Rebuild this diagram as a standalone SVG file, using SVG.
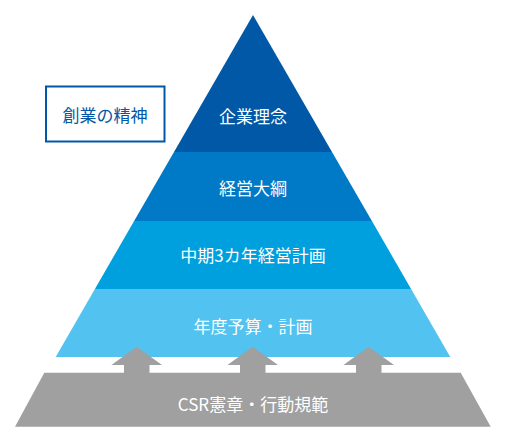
<svg xmlns="http://www.w3.org/2000/svg" width="505" height="443" viewBox="0 0 505 443">
<style>
.t{font-family:"Noto Sans CJK JP","Noto Sans",sans-serif;font-size:17px;fill:#fff;text-anchor:middle;dominant-baseline:central}
.arr{fill:#a0a0a0}
</style>
<rect width="505" height="443" fill="#fff"/>
<g id="box">
<rect x="46" y="86.5" width="118.5" height="55" fill="#fff" stroke="#0058a6" stroke-width="2"/>
<text class="t" x="105" y="114.5" style="fill:#0058a6">創業の精神</text>
</g>
<g id="band1">
<polygon points="253,15 332,152 174,152" fill="#0058a6"/>
<text class="t" x="253" y="115">企業理念</text>
</g>
<g id="band2">
<polygon points="174,152 332,152 371.9,221 134.1,221" fill="#0079c6"/>
<text class="t" x="253" y="187.5">経営大綱</text>
</g>
<g id="band3">
<polygon points="134.1,221 371.9,221 411.1,289 94.9,289" fill="#00a0de"/>
<text class="t" x="253" y="254">中期3カ年経営計画</text>
</g>
<g id="band4">
<polygon points="94.9,289 411.1,289 450.3,357 55.7,357" fill="#52c2f0"/>
<text class="t" x="253" y="325">年度予算・計画</text>
</g>
<g id="connectors">
<polygon class="arr" points="136.7,346.7 162,365 149.5,365 149.5,374 124,374 124,365 111.4,365"/>
<polygon class="arr" points="252.7,346.7 278,365 265.5,365 265.5,374 240,374 240,365 227.4,365"/>
<polygon class="arr" points="368.7,346.7 394,365 381.5,365 381.5,374 356,374 356,365 343.4,365"/>
</g>
<g id="base">
<polygon points="44.3,372.7 460.7,372.7 490.7,426.7 15,426.7" fill="#a0a0a0"/>
<text class="t" x="253" y="403">CSR憲章・行動規範</text>
</g>
</svg>
